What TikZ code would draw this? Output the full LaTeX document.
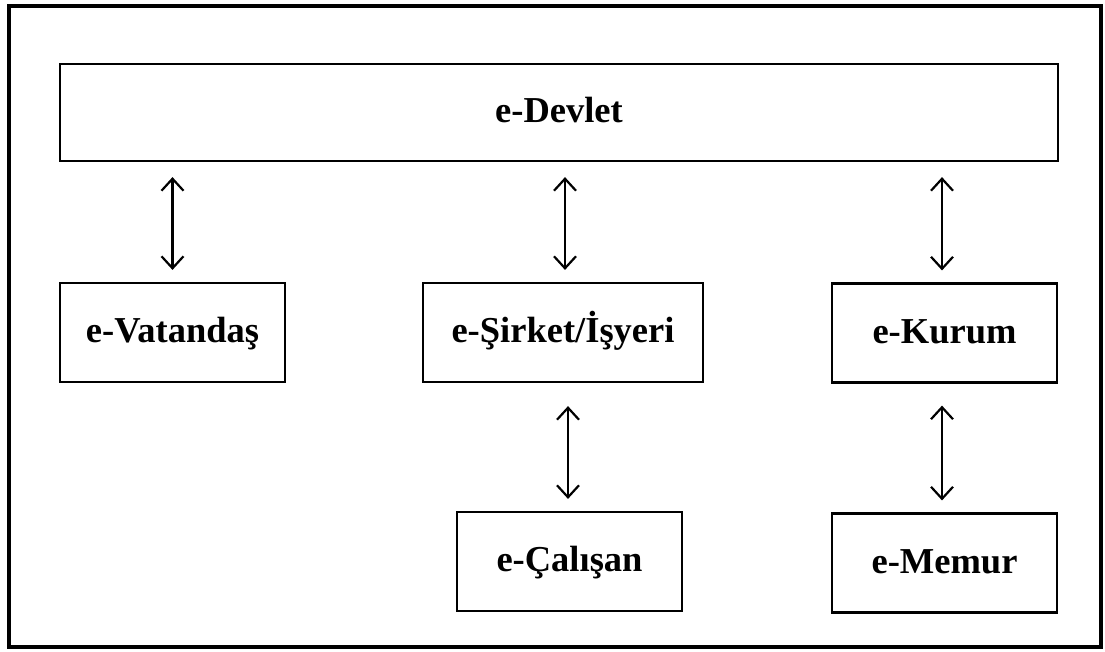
\documentclass[tikz,border=0pt]{standalone}
\usepackage{fontspec}
\setmainfont{Liberation Serif}
\usetikzlibrary{arrows.meta}

\tikzset{
    kutu/.style={draw, line width=2.2pt, minimum width=225pt, minimum height=99pt,
        inner sep=0pt, text height=26pt, text depth=6pt,
        font=\fontsize{36.5}{42}\selectfont\bfseries},
    iki/.style={{Straight Barb[length=12pt,width=22pt,line width=2.2pt]}-{Straight Barb[length=12pt,width=22pt,line width=2.2pt]},
        line width=2.2pt, shorten <=15pt, shorten >=12pt}
}

\begin{document}
\begin{tikzpicture}[x=1pt,y=-1pt]
    \useasboundingbox (0,0) rectangle (1105,651);
    \draw[line width=4pt] (9,6) rectangle (1101,647);

    \node[kutu, minimum width=998pt, minimum height=97pt] (devlet) at (559,112.5) {e-Devlet};
    \node[kutu] (vatandas) at (172.5,332.5) {e-Vatandaş};
    \node[kutu, minimum width=280pt] (sirket) at (563,332.5) {e-Şirket/İşyeri};
    \node[kutu] (kurum) at (944.5,333) {e-Kurum};
    \node[kutu] (calisan) at (569.5,561.5) {e-Çalışan};
    \node[kutu] (memur) at (944.5,563) {e-Memur};

    \draw[iki] (vatandas.north |- devlet.south) -- (vatandas.north);
    \draw[iki] ([xshift=2pt]sirket.north |- devlet.south) -- ([xshift=2pt]sirket.north);
    \draw[iki] ([xshift=-2.5pt]kurum.north |- devlet.south) -- ([xshift=-2.5pt]kurum.north);
    \draw[iki, shorten <=23pt] ([xshift=-1.5pt]calisan.north |- sirket.south) -- ([xshift=-1.5pt]calisan.north);
    \draw[iki, shorten <=22pt] ([xshift=-2.5pt]memur.north |- kurum.south) -- ([xshift=-2.5pt]memur.north);
\end{tikzpicture}
\end{document}
